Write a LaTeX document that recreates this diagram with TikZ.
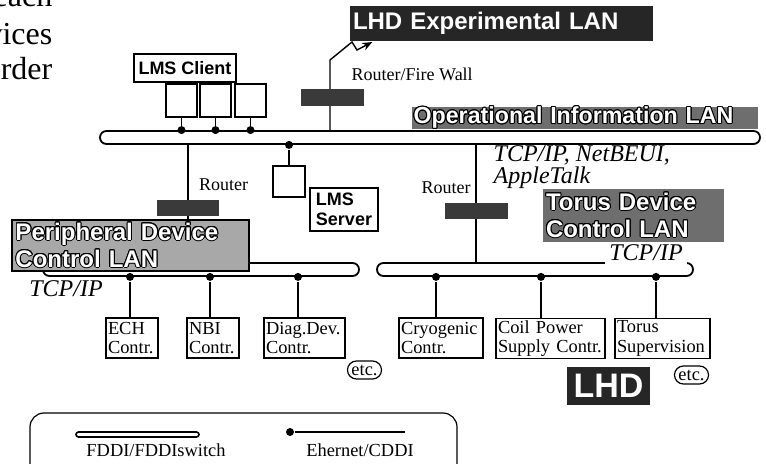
\documentclass[tikz,border=0pt]{standalone}
\usepackage{fontspec}
\setmainfont{Liberation Serif}
\setsansfont{Liberation Sans}
\usepackage{contour}
\contourlength{0.5pt}
\usetikzlibrary{arrows.meta,calc,positioning}
\definecolor{routergray}{HTML}{3A3A3A}
\definecolor{langray}{HTML}{6E6E6E}
\definecolor{lanlight}{HTML}{A8A8A8}
\newcommand{\lanword}[1]{\textcolor{white}{\contour{black}{#1}}}

\begin{document}
\begin{tikzpicture}[x=0.5pt,y=-0.5pt,line width=0.7pt,
  box/.style={draw,line width=0.6pt,inner xsep=1pt,inner ysep=0.8pt,minimum height=20pt,align=left,font=\fontsize{9.2}{9.8}\selectfont},
  sqr/.style={draw,line width=0.6pt,minimum width=15.5pt,minimum height=16.5pt,inner sep=0pt},
  pipe/.style={draw,line width=0.9pt,rounded corners=3.2pt,minimum height=6.5pt,inner sep=0pt},
  router/.style={fill=routergray,minimum width=31.5pt,minimum height=8.5pt,inner sep=0pt},
  tap/.style={circle,fill,inner sep=0pt,minimum size=4pt},
  sflab/.style={draw,line width=0.6pt,font=\sffamily\bfseries\fontsize{9}{10}\selectfont,align=left,inner sep=1.5pt},
  proto/.style={font=\itshape\fontsize{12}{11}\selectfont,inner sep=1pt,align=left},
  plain/.style={font=\fontsize{9}{10}\selectfont,inner sep=0pt},
  etcbox/.style={draw,line width=0.6pt,rounded corners=4.5pt,font=\fontsize{9.2}{10}\selectfont,inner xsep=2pt,inner ysep=0.5pt,minimum height=9pt},
  lan/.style={inner ysep=0pt,font=\sffamily\bfseries\fontsize{12}{13.5}\selectfont,align=left}]
  \useasboundingbox (0,0) rectangle (766,464);

  % bits of the page text
  \node[anchor=base east,font=\fontsize{16}{18}\selectfont,inner sep=0pt] (frag1) at (53,7) {each};
  \node[anchor=base east,font=\fontsize{16}{18}\selectfont,inner sep=0pt] (frag2) at (53,45) {vices};
  \node[anchor=base east,font=\fontsize{16}{18}\selectfont,inner sep=0pt] (frag3) at (53,80) {rder};

  % buses
  \node[pipe,minimum width=330pt] (opbus) at (430,137.5) {};
  \node[pipe,minimum width=158pt] (pbus) at (201,269.5) {};
  \node[pipe,minimum width=158pt] (tbus) at (535,269.5) {};

  % LHD experimental LAN and fire wall
  \node[fill=black!85,text=white,font=\sffamily\bfseries\fontsize{12}{13}\selectfont,minimum height=13.5pt,inner xsep=1.5pt,text width=148.5pt,align=left] (lhdexp) at (501.5,23.5) {LHD Experimental LAN};
  \coordinate (fwtop) at (330,60);
  \draw[-{Stealth[length=5pt,width=4pt]}] (fwtop |- opbus.north) -- (fwtop) -- ++(22,-18) -- ++(5,8) -- ([xshift=11.5pt]lhdexp.south west);
  \node[router] (rtfw) at (332.5,97.5) {};
  \node[plain,anchor=west] (fwlab) at (351,74) {Router/Fire Wall};

  % LMS client
  \node[sflab,minimum width=51pt,minimum height=14pt] (client) at (185,68) {LMS Client};
  \node[sqr] (cl1) at (181.5,100.5) {};
  \node[sqr] (cl2) at (215.5,100.5) {};
  \node[sqr] (cl3) at (250.5,100.5) {};
  \foreach \c in {cl1,cl2,cl3}
    \draw (\c.south) -- (\c.south |- opbus.north) node[tap] (t\c) {};

  % LMS server
  \node[sqr,minimum width=16pt,minimum height=15.5pt] (srvbox) at (289,181.5) {};
  \node[tap] (tsrv) at (srvbox.north |- opbus.south) {};
  \draw (tsrv) -- (srvbox.north);
  \node[sflab,minimum width=34pt,minimum height=21.5pt] (server) at (344,209.5) {LMS\\Server};

  % routers to the device LANs
  \draw (188,0 |- opbus.south) coordinate (rtpdtop) -- (rtpdtop |- pbus.north);
  \draw (476,0 |- opbus.south) coordinate (rttdtop) -- (rttdtop |- tbus.north);
  \node[router,minimum width=31pt,minimum height=8pt] (rtpd) at (188,208) {};
  \node[router,minimum height=8pt] (rttd) at (476,211) {};
  \node[plain] (rtpdlab) at (223.5,185) {Router};
  \node[plain] (rttdlab) at (446,188) {Router};

  % LAN labels
  \node[fill=langray,lan,font=\sffamily\bfseries\fontsize{11.6}{12}\selectfont,inner xsep=0.8pt,text width=171.4pt,minimum height=10pt] (oplab) at (585,118) {\lanword{Operational Information LAN}};
  \node[proto,anchor=north west] (opproto) at (491,143) {TCP/IP, NetBEUI,\\AppleTalk};

  \node[draw,line width=0.6pt,fill=lanlight,lan,inner xsep=1.75pt,text width=115pt,minimum height=25.5pt] (pdlab) at (130.5,245.5) {\lanword{Peripheral Device}\\\lanword{Control LAN}};
  \node[proto] (pdproto) at (66,289) {TCP/IP};

  \node[proto,fill=white,inner xsep=2pt,inner ysep=1.5pt] (tdproto) at (646,253) {TCP/IP};
  \node[fill=langray,lan,inner xsep=1.5pt,text width=87.5pt,minimum height=26.5pt] (tdlab) at (633.5,215.5) {\lanword{Torus Device}\\\lanword{Control LAN}};

  % controllers
  \node[box,text width=24pt] (ech) at (132,338) {ECH\\Contr.};
  \node[box,text width=24pt] (nbi) at (213,338) {NBI\\Contr.};
  \node[box,text width=38.5pt] (diag) at (304.5,338) {Diag.Dev.\\Contr.};
  \node[box,text width=40pt] (cryo) at (441,338) {Cryogenic\\Contr.};
  \node[box,text width=52.5pt] (coil) at (550.5,338.5) {Coil Power\\Supply Contr.};
  \node[box,text width=45.5pt] (torsup) at (662.5,338.5) {Torus\\Supervision};
  \foreach \n/\s/\b in {ech/-1/pbus,nbi/-1.5/pbus,diag/-3.25/pbus,cryo/-2.5/tbus,coil/-4.75/tbus,torsup/-3.25/tbus} {
    \node[tap] (t\n) at ([xshift=\s pt]\n.north |- \b.south) {};
    \draw (t\n) -- (t\n |- \n.north);
  }
  \node[etcbox] (etc1) at (364.5,370) {etc.};
  \node[etcbox] (etc2) at (691.5,375) {etc.};
  \node[fill=black!85,text=white,font=\sffamily\bfseries\fontsize{17}{17}\selectfont,minimum width=41.5pt,minimum height=19pt,inner sep=0pt] (lhd) at (608.5,386) {LHD};

  % legend
  \node[draw,line width=0.6pt,rounded corners=7pt,minimum width=213.5pt,minimum height=35pt,inner sep=0pt] (legend) at (243.5,448) {};
  \node[pipe,line width=0.8pt,rounded corners=1.25pt,minimum width=61.5pt,minimum height=2.5pt] (fddi) at (137.5,434.5) {};
  \node[plain,font=\fontsize{9.2}{10}\selectfont] (fddilab) at (156,450) {FDDI/FDDIswitch};
  \node[tap] (ethdot) at (290,432) {};
  \coordinate (ethend) at (405,432);
  \draw (ethdot) -- (ethend);
  \node[plain,font=\fontsize{9.2}{10}\selectfont] (ethlab) at (360,450) {Ehernet/CDDI};
\end{tikzpicture}
\end{document}
